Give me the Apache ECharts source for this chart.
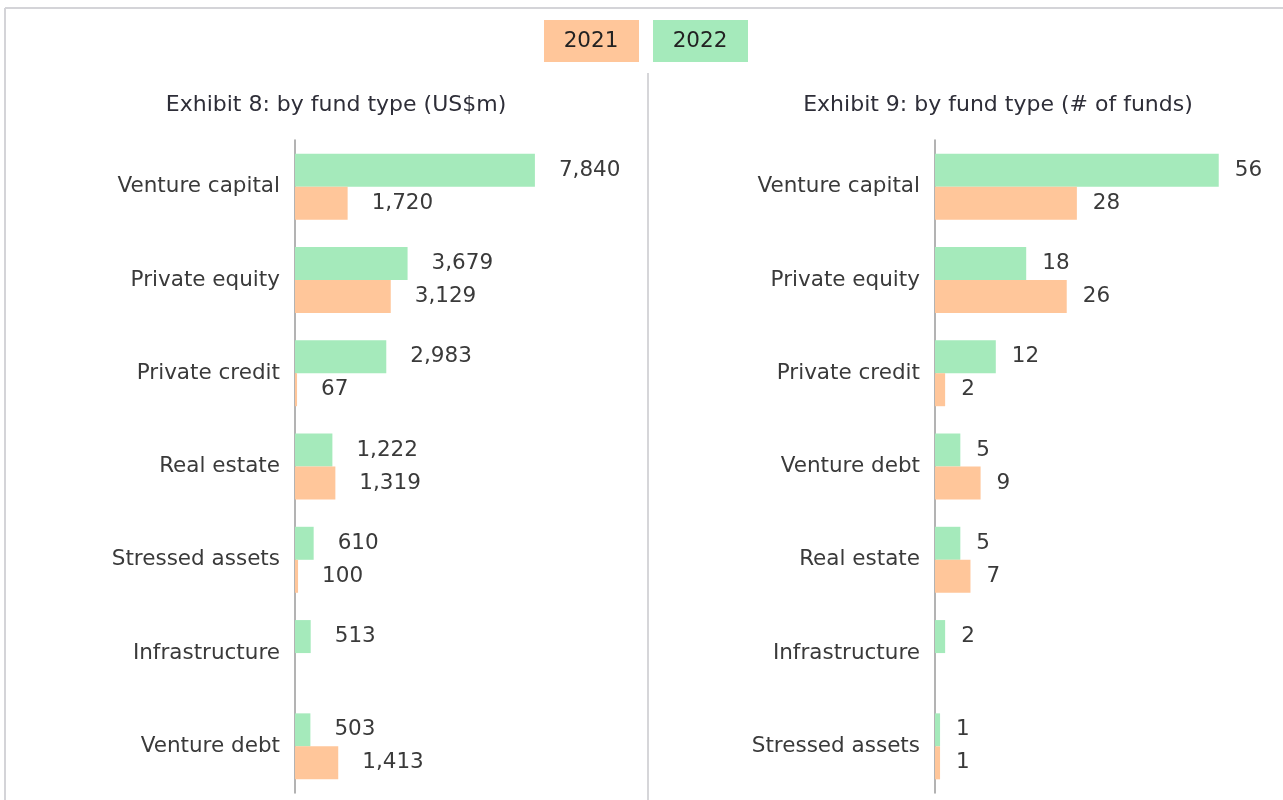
<!DOCTYPE html>
<html>
<head>
<meta charset="utf-8">
<script src="https://cdn.jsdelivr.net/npm/echarts@6/dist/echarts.min.js"></script>
<style>
  html, body { margin: 0; padding: 0; background: #fff; }
  #chart { width: 1283px; height: 800px; }
</style>
</head>
<body>
<div id="chart"></div>
<script>
// data
const amountCats = ['Venture capital', 'Private equity', 'Private credit', 'Real estate', 'Stressed assets', 'Infrastructure', 'Venture debt'];
const amount2022 = [7840, 3679, 2983, 1222, 610, 513, 503];
const amount2021 = [1720, 3129, 67, 1319, 100, '-', 1413];

const countCats = ['Venture capital', 'Private equity', 'Private credit', 'Venture debt', 'Real estate', 'Infrastructure', 'Stressed assets'];
const count2022 = [56, 18, 12, 5, 5, 2, 1];
const count2021 = [28, 26, 2, 9, 7, '-', 1];

const GREEN = '#a5eabb';
const ORANGE = '#ffc69a';
const FONT = 'DejaVu Sans';

let myChart = echarts.init(document.getElementById('chart'));

function catAxis(idx, data) {
    return {
        type: 'category',
        gridIndex: idx,
        data: data,
        inverse: true,
        axisLine: { show: true, lineStyle: { color: '#9a9a9a', width: 1.5 } },
        axisTick: { show: false },
        axisLabel: { fontSize: 21.5, color: '#3a3a3a', fontFamily: FONT, margin: 15 },
        splitLine: { show: false }
    };
}

function valAxis(idx, max) {
    return {
        type: 'value', gridIndex: idx, min: 0, max: max,
        show: false, splitLine: { show: false }
    };
}

function barSeries(name, idx, data, color, dist) {
    return {
        name: name,
        type: 'bar',
        xAxisIndex: idx,
        yAxisIndex: idx,
        data: data,
        barWidth: 33,
        barGap: '0%',
        itemStyle: { color: color },
        label: {
            show: true,
            position: 'right',
            distance: dist,
            fontSize: 21.5,
            color: '#3a3a3a',
            fontFamily: FONT,
            formatter: p => Number(p.value).toLocaleString('en-US')
        },
        animation: false
    };
}

myChart.setOption({
    animation: false,
    textStyle: { fontFamily: FONT },
    title: [
        {
            text: 'Exhibit 8: by fund type (US$m)',
            left: 331, top: 89, textAlign: 'center',
            textStyle: { fontSize: 22, fontWeight: 'normal', color: '#2e2e38', fontFamily: FONT }
        },
        {
            text: 'Exhibit 9: by fund type (# of funds)',
            left: 993, top: 89, textAlign: 'center',
            textStyle: { fontSize: 22, fontWeight: 'normal', color: '#2e2e38', fontFamily: FONT }
        }
    ],
    grid: [
        { left: 295, top: 140, width: 306, height: 653 },
        { left: 935, top: 140, width: 304, height: 653 }
    ],
    xAxis: [valAxis(0, 10000), valAxis(1, 60)],
    yAxis: [catAxis(0, amountCats), catAxis(1, countCats)],
    series: [
        barSeries('2022', 0, amount2022, GREEN, 24),
        barSeries('2021', 0, amount2021, ORANGE, 24),
        barSeries('2022', 1, count2022, GREEN, 16),
        barSeries('2021', 1, count2021, ORANGE, 16)
    ],
    graphic: [
        // frame and divider
        { type: 'line', shape: { x1: 5, y1: 8, x2: 1283, y2: 8 }, style: { stroke: '#d4d4d8', lineWidth: 2 } },
        { type: 'line', shape: { x1: 5, y1: 8, x2: 5, y2: 800 }, style: { stroke: '#d4d4d8', lineWidth: 2 } },
        { type: 'line', shape: { x1: 648, y1: 73, x2: 648, y2: 800 }, style: { stroke: '#c8c8cc', lineWidth: 1.5 } },
        // legend boxes
        { type: 'rect', shape: { x: 544, y: 20, width: 95, height: 42 }, style: { fill: ORANGE } },
        { type: 'text', x: 591, y: 41, style: { text: '2021', fontSize: 21.5, fontFamily: FONT, fill: '#222', align: 'center', verticalAlign: 'middle' } },
        { type: 'rect', shape: { x: 653, y: 20, width: 95, height: 42 }, style: { fill: GREEN } },
        { type: 'text', x: 700, y: 41, style: { text: '2022', fontSize: 21.5, fontFamily: FONT, fill: '#222', align: 'center', verticalAlign: 'middle' } }
    ]
});
</script>
</body>
</html>
